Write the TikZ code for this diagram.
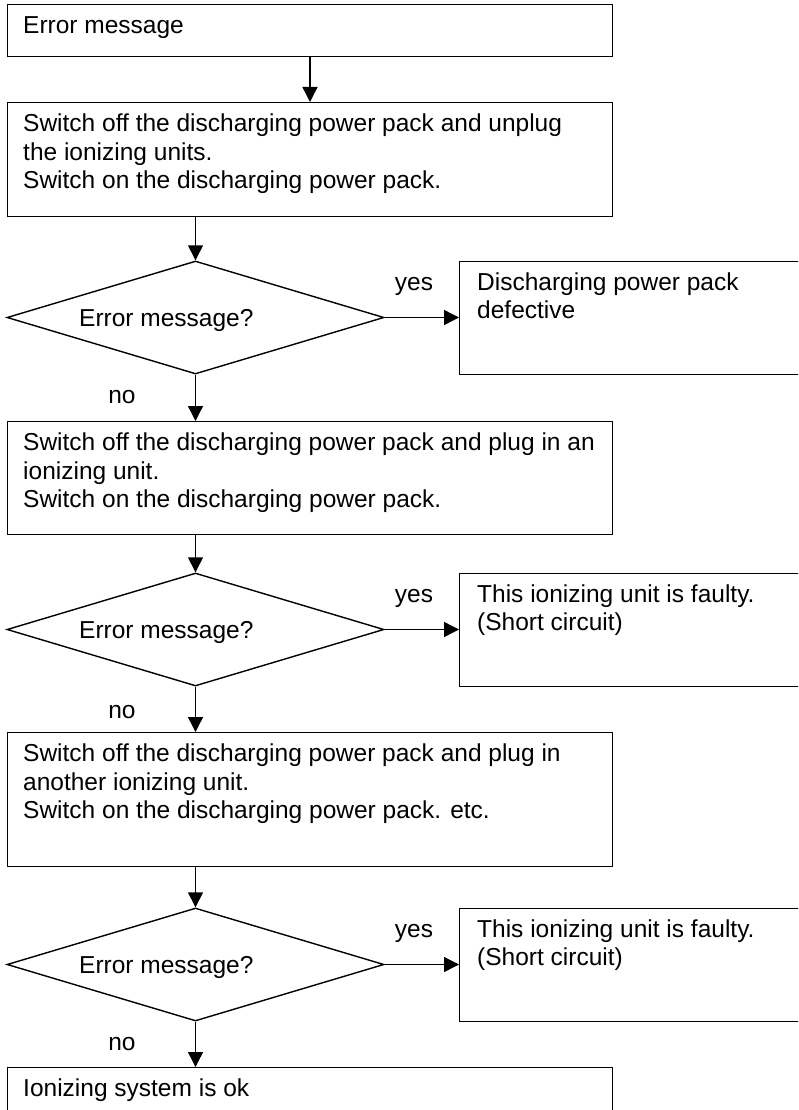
\documentclass[tikz,border=0pt]{standalone}
\usepackage{fontspec}
\setmainfont{Liberation Sans}
\usetikzlibrary{arrows.meta,shapes.geometric}
\begin{document}
\begin{tikzpicture}[x=1pt,y=-1pt,
  box/.style={draw,line width=1.4pt,rectangle,inner sep=0pt,anchor=north west},
  dec/.style={draw,line width=1.4pt,diamond,inner sep=0pt,minimum width=377pt,minimum height=113pt},
  txt/.style={anchor=base west,inner sep=0pt,font=\fontsize{24.5}{28.5}\selectfont,align=left},
  lbl/.style={anchor=base,inner sep=0pt,font=\fontsize{24.5}{28.5}\selectfont},
  flow/.style={line width=1.4pt,-{Triangle[width=15pt,length=15pt]}}
]
\useasboundingbox (0,0) rectangle (798,1110);
\clip (0,0) rectangle (798,1110);

% boxes
\node[box,minimum width=605pt,minimum height=52pt] (b1) at (7,4) {};
\node[box,minimum width=605pt,minimum height=114pt] (b2) at (7,102) {};
\node[dec] (d1) at (195.5,317.5) {};
\node[box,minimum width=380pt,minimum height=113pt] (y1) at (459,261) {};
\node[box,minimum width=605pt,minimum height=113pt] (b3) at (7,421) {};
\node[dec] (d2) at (195.5,629.5) {};
\node[box,minimum width=380pt,minimum height=113pt] (y2) at (459,573) {};
\node[box,minimum width=605pt,minimum height=134pt] (b4) at (7,732) {};
\node[dec] (d3) at (195.5,964.5) {};
\node[box,minimum width=380pt,minimum height=113pt] (y3) at (459,908) {};
\node[box,minimum width=605pt,minimum height=80pt] (b5) at (7,1067) {};

% texts (base anchor = baseline of the last line)
\node[txt] (t1) at (23,34) {Error message};
\node[txt] (t2) at (23,189) {Switch off the discharging power pack and unplug\\the ionizing units.\\Switch on the discharging power pack.};
\node[txt] (t3) at (79,326) {Error message?};
\node[txt] (t4) at (477,318.5) {Discharging power pack\\defective};
\node[txt] (t5) at (23,507.5) {Switch off the discharging power pack and plug in an\\ionizing unit.\\Switch on the discharging power pack.};
\node[txt] (t6) at (79,638) {Error message?};
\node[txt] (t7) at (477,630.5) {This ionizing unit is faulty.\\(Short circuit)};
\node[txt] (t8) at (23,818.5) {Switch off the discharging power pack and plug in\\another ionizing unit.\\Switch on the discharging power pack. etc.};
\node[txt] (t9) at (79,973) {Error message?};
\node[txt] (t10) at (477,965.5) {This ionizing unit is faulty.\\(Short circuit)};
\node[txt] (t11) at (23,1096.5) {Ionizing system is ok};

% labels
\node[lbl] (yes1) at (414,290) {yes};
\node[lbl] (no1) at (122,403) {no};
\node[lbl] (yes2) at (414,602) {yes};
\node[lbl] (no2) at (122,718) {no};
\node[lbl] (yes3) at (414,937) {yes};
\node[lbl] (no3) at (122,1050) {no};

% connectors
\coordinate (c1) at (310,0);
\draw[flow] (c1 |- b1.south) -- (c1 |- b2.north);
\draw[flow] (d1.north |- b2.south) -- (d1.north);
\draw[flow] (d1.east) -- (d1.east -| y1.west);
\draw[flow] (d1.south) -- (d1.south |- b3.north);
\draw[flow] (d2.north |- b3.south) -- (d2.north);
\draw[flow] (d2.east) -- (d2.east -| y2.west);
\draw[flow] (d2.south) -- (d2.south |- b4.north);
\draw[flow] (d3.north |- b4.south) -- (d3.north);
\draw[flow] (d3.east) -- (d3.east -| y3.west);
\draw[flow] (d3.south) -- (d3.south |- b5.north);
\end{tikzpicture}
\end{document}
